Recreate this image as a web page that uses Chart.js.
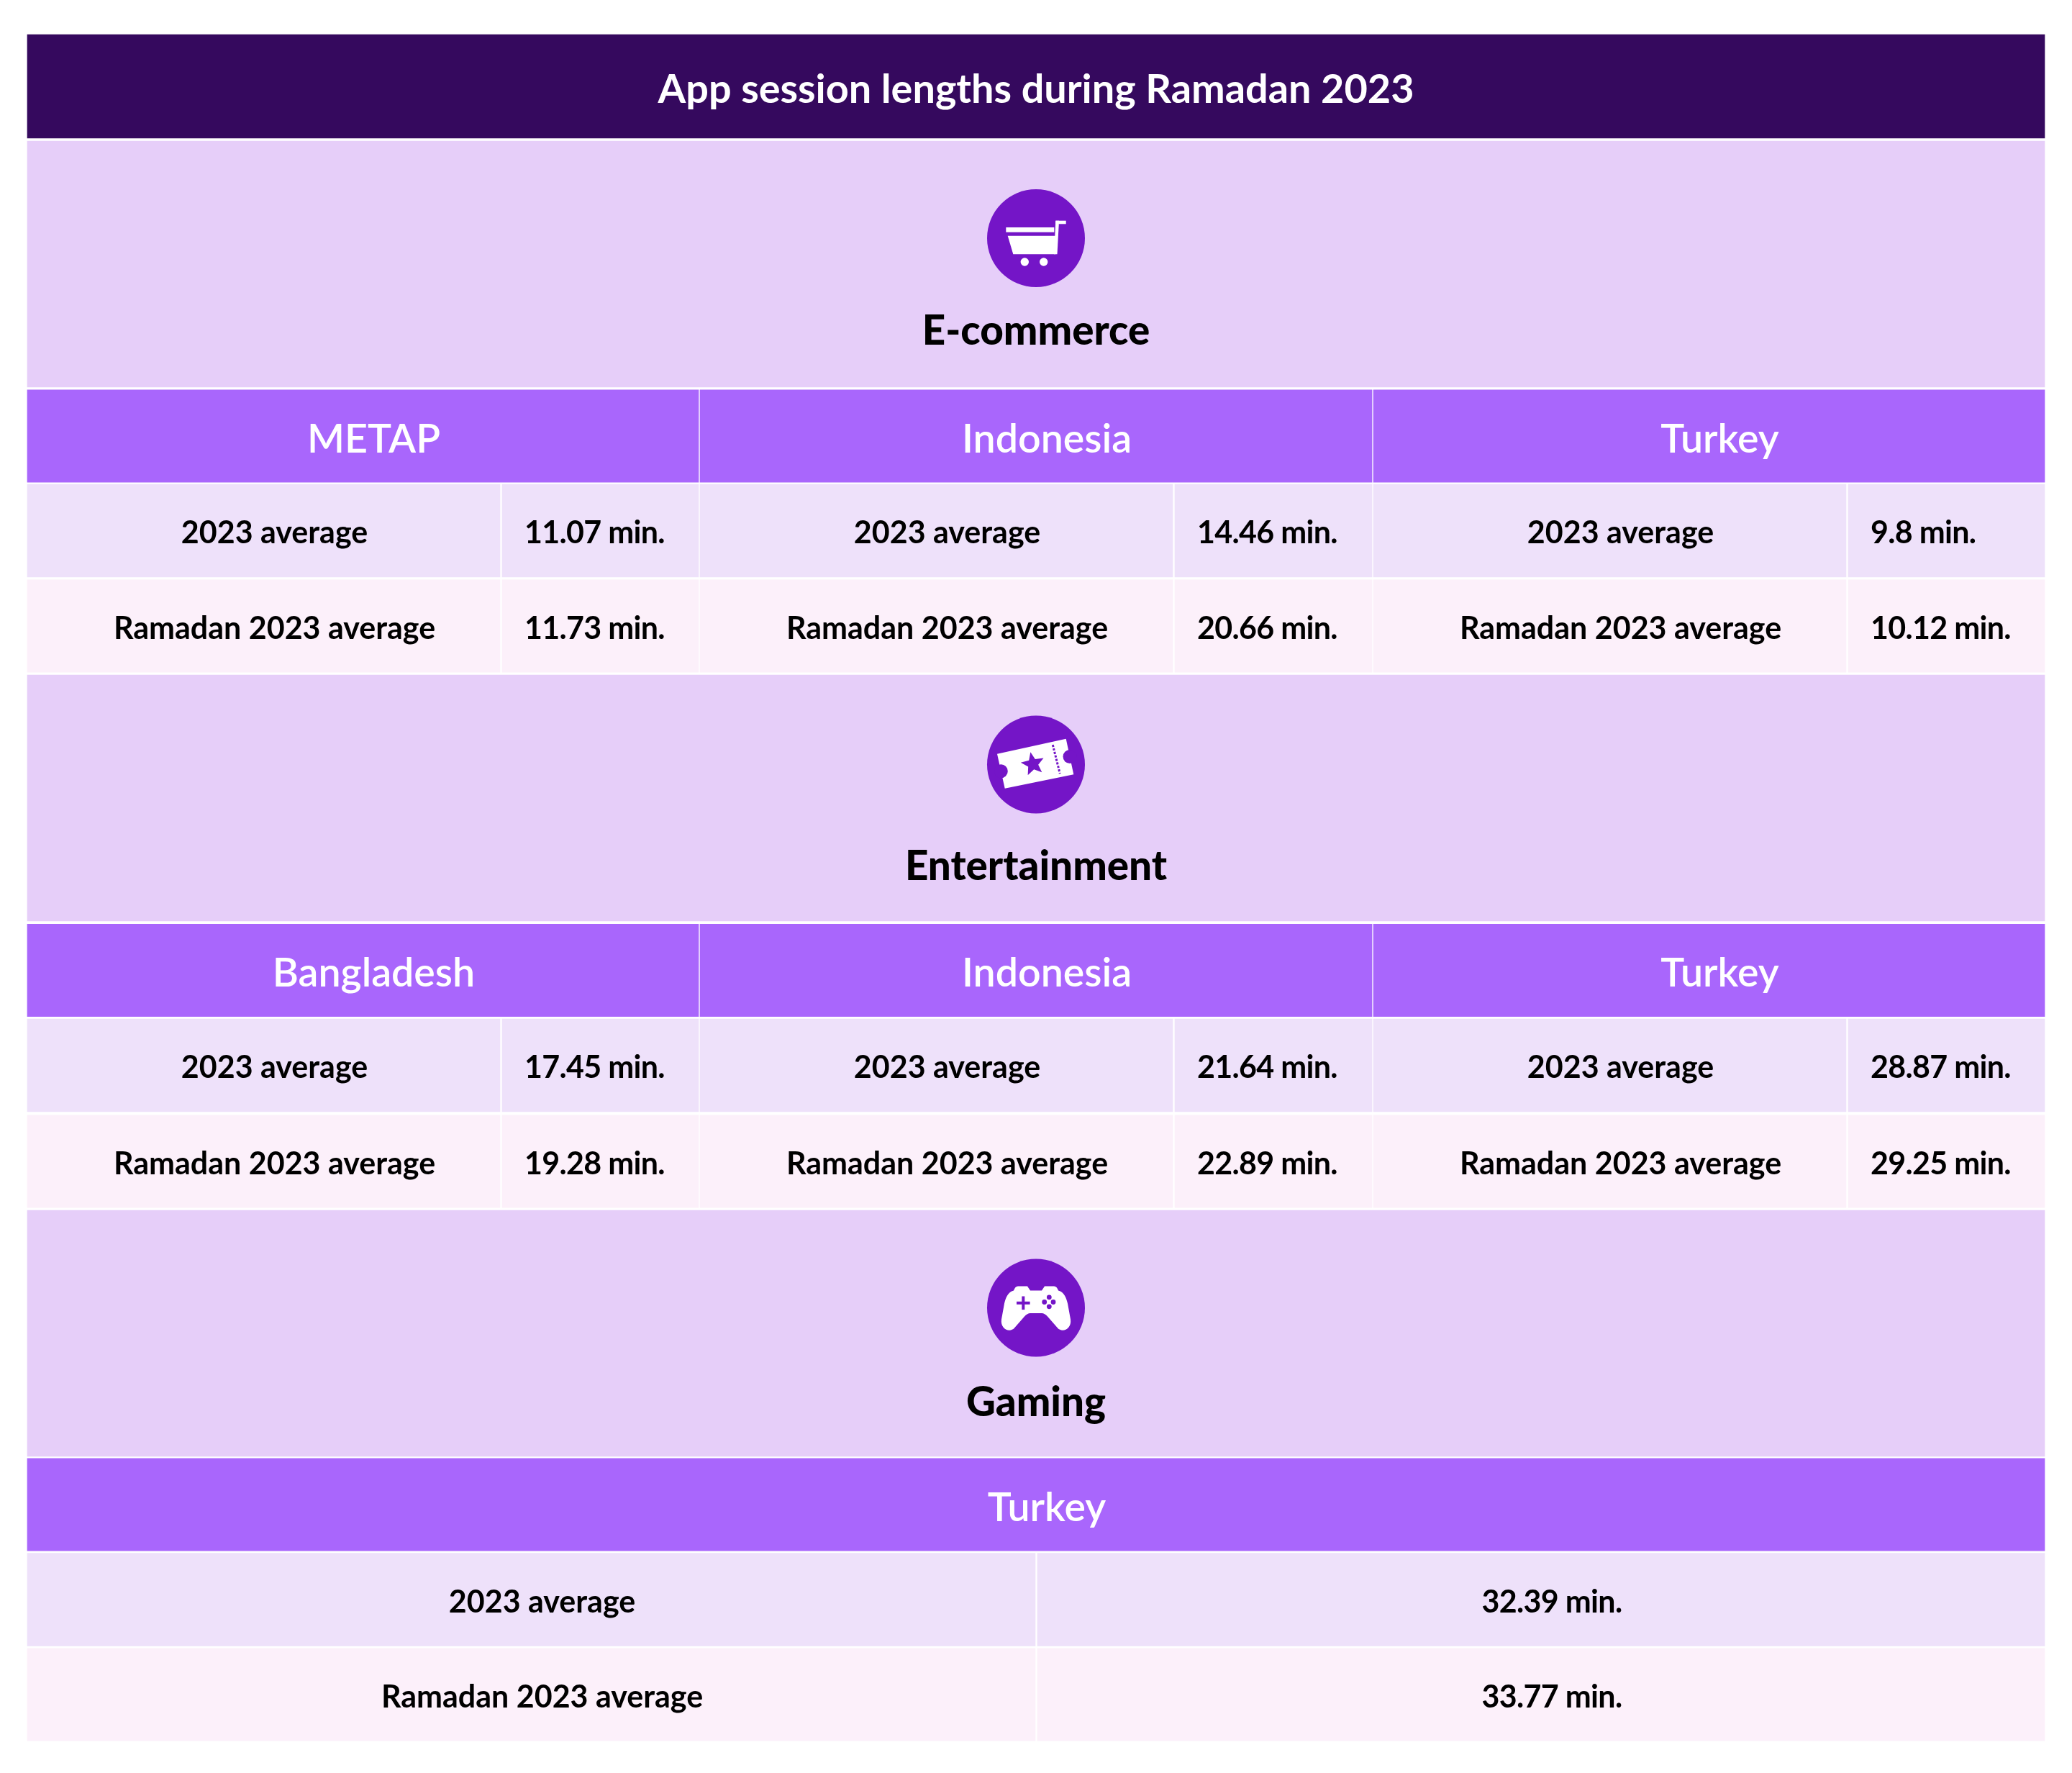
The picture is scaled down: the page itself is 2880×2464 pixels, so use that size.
<!DOCTYPE html>
<html>
<head>
<meta charset="utf-8">
<title>App session lengths during Ramadan 2023</title>
<script src="https://cdn.jsdelivr.net/npm/chart.js@4/dist/chart.umd.min.js"></script>
<style>
  html, body { margin: 0; padding: 0; background: #fff; }
  canvas { display: block; }
</style>
</head>
<body>
<canvas id="tableChart" width="2880" height="2464"></canvas>
<script>
// ---- data ----
const chartTitle = 'App session lengths during Ramadan 2023';
const sectionNames = ['E-commerce', 'Entertainment', 'Gaming'];
const rowLabels = ['2023 average', 'Ramadan 2023 average'];

const ecommerceRegions = ['METAP', 'Indonesia', 'Turkey'];
const ecommerceAverage = [11.07, 14.46, 9.8];
const ecommerceRamadan = [11.73, 20.66, 10.12];

const entertainmentRegions = ['Bangladesh', 'Indonesia', 'Turkey'];
const entertainmentAverage = [17.45, 21.64, 28.87];
const entertainmentRamadan = [19.28, 22.89, 29.25];

const gamingRegions = ['Turkey'];
const gamingAverage = [32.39];
const gamingRamadan = [33.77];

// ---- layout, in canvas units (the axes run 0-2880 and 0-2464) ----
const LEFT = 38, RIGHT = 2842;
const titleBand = [48, 192];
// section band, region header, average row, ramadan row
const blocks = [
  { band: [196, 538], head: [542, 670], avg: [673, 802], ram: [806, 934], iconY: 331, nameY: 461 },
  { band: [938, 1280], head: [1284, 1413], avg: [1416, 1545], ram: [1549, 1679], iconY: 1062.5, nameY: 1205 },
  { band: [1682, 2024], head: [2027, 2155], avg: [2159, 2287], ram: [2291, 2419], iconY: 1817.5, nameY: 1950 }
];
const threeCols = [
  { span: [38, 971], label: [38, 695], value: [698, 971] },
  { span: [973, 1907], label: [973, 1630], value: [1633, 1907] },
  { span: [1909, 2842], label: [1909, 2566], value: [2569, 2842] }
];
const oneCol = [{ span: [38, 2842], label: [38, 1439], value: [1442, 2842], centerValue: true }];

const COLORS = {
  title: '#35095E', band: '#E6CEF9', head: '#A966FC',
  avg: '#EEE1FA', ram: '#FCF0FA', icon: '#7415C7'
};
const FONT = 'Lato, sans-serif';
const TEXT_NUDGE = 15;   // cell text sits a little right of the cell centre
const VALUE_INSET = 31;  // value cells are left aligned
const TEXT_DROP = 4;     // Lato sits high on a middle baseline
const CELL_FONT = `700 43px ${FONT}`;
const VALUE_SPACING = '-0.7px';

const sections = [
  { regions: ecommerceRegions, average: ecommerceAverage, ramadan: ecommerceRamadan, cols: threeCols },
  { regions: entertainmentRegions, average: entertainmentAverage, ramadan: entertainmentRamadan, cols: threeCols },
  { regions: gamingRegions, average: gamingAverage, ramadan: gamingRamadan, cols: oneCol }
];

// ---- build cells and text from the arrays ----
const mid = r => (r[0] + r[1]) / 2;
const cell = (xr, yr) => ({ x: xr, y: mid(yr) });
const bandCells = [], headCells = [], avgCells = [], ramCells = [];
const labels = [];

labels.push({ text: chartTitle, x: 1440, y: mid(titleBand) + TEXT_DROP + 1, font: `700 55.8px ${FONT}`, color: '#fff' });

sections.forEach((s, i) => {
  const b = blocks[i];
  bandCells.push(cell([LEFT, RIGHT], b.band));
  labels.push({ text: sectionNames[i], x: 1440, y: b.nameY, font: `900 56.5px ${FONT}`, color: '#000' });
  s.regions.forEach((region, j) => {
    const c = s.cols[j];
    headCells.push(cell(c.span, b.head));
    labels.push({ text: region, x: mid(c.span) + TEXT_NUDGE, y: mid(b.head) + TEXT_DROP + 1, font: `600 55.5px ${FONT}`, color: '#fff' });
    [[s.average, avgCells, b.avg, rowLabels[0]], [s.ramadan, ramCells, b.ram, rowLabels[1]]].forEach(([vals, out, yr, name]) => {
      out.push(cell(c.label, yr), cell(c.value, yr));
      const ty = mid(yr) + TEXT_DROP;
      labels.push({ text: name, x: mid(c.label) + TEXT_NUDGE, y: ty, font: CELL_FONT, color: '#000' });
      const text = vals[j] + ' min.';
      if (c.centerValue) {
        labels.push({ text, x: mid(c.value) + TEXT_NUDGE, y: ty, font: CELL_FONT, color: '#000', spacing: VALUE_SPACING });
      } else {
        labels.push({ text, x: c.value[0] + VALUE_INSET, y: ty, font: CELL_FONT, color: '#000', align: 'left', spacing: VALUE_SPACING });
      }
    });
  });
});

// ---- icon glyphs, drawn around the circle centre ----
function drawCart(ctx) {
  ctx.fillStyle = '#fff';
  ctx.fillRect(27.3, -24.3, 14.4, 4.6);
  ctx.fillRect(-41.7, -15, 67, 6.7);
  ctx.beginPath();
  ctx.moveTo(27.3, -24.3); ctx.lineTo(32, -24.3); ctx.lineTo(29.5, 22.3); ctx.lineTo(25, 22.3);
  ctx.closePath(); ctx.fill();
  ctx.beginPath();
  ctx.moveTo(-39.3, -3.3); ctx.lineTo(28, -3.3); ctx.lineTo(27.3, 22.3); ctx.lineTo(-31.7, 22.3);
  ctx.closePath(); ctx.fill();
  [-15.7, 10.7].forEach(x => {
    ctx.beginPath(); ctx.arc(x, 33, 5.7, 0, Math.PI * 2); ctx.fill();
  });
}

function drawTicket(ctx) {
  ctx.fillStyle = '#fff';
  ctx.beginPath();
  ctx.moveTo(-54, -14.7); ctx.lineTo(41.7, -35.7); ctx.lineTo(52.3, 13.7); ctx.lineTo(-43.3, 33.3);
  ctx.closePath(); ctx.fill();
  ctx.fillStyle = COLORS.icon;
  [[-48.7, 9.3], [47, -11]].forEach(([x, y]) => {
    ctx.beginPath(); ctx.arc(x, y, 9.5, 0, Math.PI * 2); ctx.fill();
  });
  ctx.strokeStyle = COLORS.icon;
  ctx.lineWidth = 3;
  ctx.setLineDash([3, 2]);
  ctx.beginPath(); ctx.moveTo(23.3, -27.3); ctx.lineTo(33.3, 12.7); ctx.stroke();
  ctx.setLineDash([]);
  ctx.beginPath();
  for (let k = 0; k < 10; k++) {
    const r = k % 2 ? 7.5 : 17;
    const a = -Math.PI / 2 + k * Math.PI / 5 - 0.2;
    ctx.lineTo(-4.3 + r * Math.cos(a), -0.7 + r * Math.sin(a));
  }
  ctx.closePath(); ctx.fill();
}

function drawPad(ctx) {
  ctx.fillStyle = '#fff';
  ctx.beginPath();
  ctx.moveTo(-25, -30);
  ctx.lineTo(-12, -30); ctx.lineTo(-8, -24); ctx.lineTo(8, -24); ctx.lineTo(12, -30); ctx.lineTo(25, -30);
  ctx.quadraticCurveTo(29, -30, 31, -24);
  ctx.bezierCurveTo(39, -22, 42, -14, 44, -6);
  ctx.lineTo(48, 16);
  ctx.bezierCurveTo(50, 30, 36, 35, 30, 28);
  ctx.lineTo(16, 12);
  ctx.quadraticCurveTo(12, 7.5, 8, 7.5);
  ctx.lineTo(-8, 7.5);
  ctx.quadraticCurveTo(-12, 7.5, -16, 12);
  ctx.lineTo(-30, 28);
  ctx.bezierCurveTo(-36, 35, -50, 30, -48, 16);
  ctx.lineTo(-44, -6);
  ctx.bezierCurveTo(-42, -14, -39, -22, -31, -24);
  ctx.quadraticCurveTo(-29, -30, -25, -30);
  ctx.closePath(); ctx.fill();
  ctx.fillStyle = COLORS.icon;
  ctx.fillRect(-27, -8.7, 18.6, 4);
  ctx.fillRect(-19.7, -16, 4, 18.6);
  [[18.3, -14.7], [18.3, -1.7], [11.7, -8], [24, -8]].forEach(([x, y]) => {
    ctx.beginPath(); ctx.arc(x, y, 3.4, 0, Math.PI * 2); ctx.fill();
  });
}
const iconGlyphs = [drawCart, drawTicket, drawPad];

// ---- text and glyphs on top of the datasets, placed through the scales ----
const tableText = {
  id: 'tableText',
  afterDatasetsDraw(chart) {
    const { ctx, scales: { x, y } } = chart;
    ctx.save();
    blocks.forEach((b, i) => {
      ctx.save();
      ctx.translate(x.getPixelForValue(1440), y.getPixelForValue(b.iconY));
      iconGlyphs[i](ctx);
      ctx.restore();
    });
    ctx.textBaseline = 'middle';
    labels.forEach(l => {
      ctx.font = l.font;
      ctx.fillStyle = l.color;
      ctx.textAlign = l.align || 'center';
      ctx.letterSpacing = l.spacing || '0px';
      ctx.fillText(l.text, x.getPixelForValue(l.x), y.getPixelForValue(l.y));
    });
    ctx.restore();
  }
};

const bars = (data, color, thickness) => ({
  type: 'bar', data, backgroundColor: color, barThickness: thickness,
  borderWidth: 0, grouped: false
});

new Chart(document.getElementById('tableChart'), {
  data: {
    datasets: [
      {
        type: 'scatter',
        data: blocks.map(b => ({ x: 1440, y: b.iconY })),
        pointRadius: 68, pointBackgroundColor: COLORS.icon, pointBorderWidth: 0
      },
      bars([cell([LEFT, RIGHT], titleBand)], COLORS.title, titleBand[1] - titleBand[0]),
      bars(bandCells, COLORS.band, 342),
      bars(headCells, COLORS.head, 128.5),
      bars(avgCells, COLORS.avg, 129),
      bars(ramCells, COLORS.ram, 128.5)
    ]
  },
  plugins: [tableText],
  options: {
    indexAxis: 'y',
    responsive: false,
    animation: false,
    devicePixelRatio: 1,
    layout: { padding: 0, autoPadding: false },
    plugins: { legend: { display: false }, tooltip: { enabled: false }, title: { display: false } },
    scales: {
      x: { type: 'linear', min: 0, max: 2880, offset: false, display: false },
      y: { type: 'linear', min: 0, max: 2464, offset: false, reverse: true, display: false }
    }
  }
});
</script>
</body>
</html>
